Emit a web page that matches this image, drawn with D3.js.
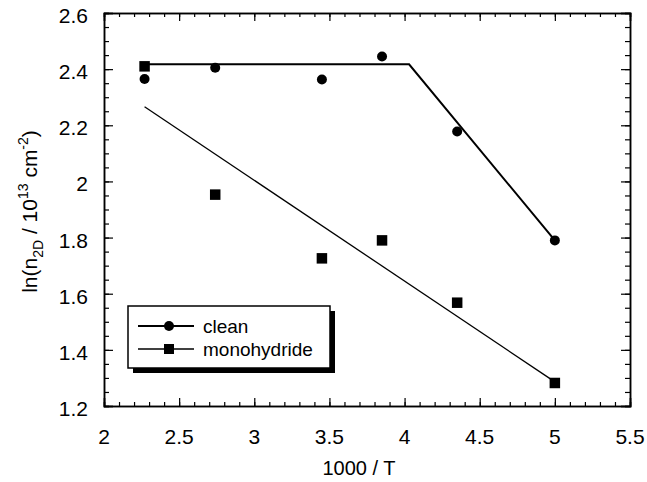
<!DOCTYPE html>
<html>
<head>
<meta charset="utf-8">
<script src="https://cdn.jsdelivr.net/npm/d3@7"></script>
<style>
  body { margin: 0; background: #fff; }
  text { font-family: "Liberation Sans", Arial, sans-serif; fill: #000; }
</style>
</head>
<body>
<div id="chart"></div>
<script>
// Data
var invT = [2.27, 2.74, 3.45, 3.85, 4.35, 5.0];
var cleanY = [2.365, 2.405, 2.363, 2.445, 2.178, 1.79];
var monoY = [2.41, 1.953, 1.726, 1.79, 1.568, 1.282];

// fitted lines
var cleanFitX = [2.27, 4.03, 5.0];
var cleanFitY = [2.417, 2.417, 1.79];
var monoFitX = [2.27, 5.0];
var monoFitY = [2.266, 1.286];

var xTicks = [2, 2.5, 3, 3.5, 4, 4.5, 5, 5.5];
var yTicks = [1.2, 1.4, 1.6, 1.8, 2, 2.2, 2.4, 2.6];
var legendLabels = ["clean", "monohydride"];

var svgWidth = 647;
var svgHeight = 482;
var margin = { top: 13, right: 17, bottom: 76, left: 104 };
var chartWidth = svgWidth - margin.left - margin.right;
var chartHeight = svgHeight - margin.top - margin.bottom;

var svg = d3.select("#chart")
    .append("svg")
    .attr("width", svgWidth)
    .attr("height", svgHeight);

var chartGroup = svg.append("g")
    .attr("transform", `translate(${margin.left}, ${margin.top})`);

var x = d3.scaleLinear().domain([2, 5.5]).range([0, chartWidth]);
var y = d3.scaleLinear().domain([1.2, 2.6]).range([chartHeight, 0]);

var fmt = d3.format("");

// minor ticks
var xMinor = d3.range(2, 5.5001, 0.1);
var yMinor = d3.range(1.2, 2.6001, 0.05);

function tickAxis(axis, vals, size) {
    return axis.tickValues(vals).tickSize(size).tickFormat("");
}

// bottom
chartGroup.append("g").attr("class", "ax")
    .attr("transform", `translate(0, ${chartHeight})`)
    .call(tickAxis(d3.axisTop(x), xMinor, 4));
chartGroup.append("g").attr("class", "ax")
    .attr("transform", `translate(0, ${chartHeight})`)
    .call(tickAxis(d3.axisTop(x), xTicks, 8));
// top
chartGroup.append("g").attr("class", "ax")
    .call(tickAxis(d3.axisBottom(x), xMinor, 4));
chartGroup.append("g").attr("class", "ax")
    .call(tickAxis(d3.axisBottom(x), xTicks, 8));
// left
chartGroup.append("g").attr("class", "ax")
    .call(tickAxis(d3.axisRight(y), yMinor, 5));
chartGroup.append("g").attr("class", "ax")
    .call(tickAxis(d3.axisRight(y), yTicks, 9));
// right
chartGroup.append("g").attr("class", "ax")
    .attr("transform", `translate(${chartWidth}, 0)`)
    .call(tickAxis(d3.axisLeft(y), yMinor, 5));
chartGroup.append("g").attr("class", "ax")
    .attr("transform", `translate(${chartWidth}, 0)`)
    .call(tickAxis(d3.axisLeft(y), yTicks, 9));

chartGroup.selectAll(".ax path").attr("stroke", "#000").attr("stroke-width", 1.5);
chartGroup.selectAll(".ax line").attr("stroke", "#000").attr("stroke-width", 1.2);

// tick labels
chartGroup.append("g")
    .selectAll("text")
    .data(xTicks)
    .join("text")
    .attr("x", d => x(d))
    .attr("y", chartHeight + 38)
    .attr("text-anchor", "middle")
    .style("font-size", "21px")
    .text(d => fmt(d));

chartGroup.append("g")
    .selectAll("text")
    .data(yTicks)
    .join("text")
    .attr("x", -16)
    .attr("y", d => y(d) + 10)
    .attr("text-anchor", "end")
    .style("font-size", "21px")
    .text(d => fmt(d));

// axis titles
svg.append("text")
    .attr("x", margin.left + chartWidth / 2 - 8)
    .attr("y", 475)
    .attr("text-anchor", "middle")
    .style("font-size", "20px")
    .text("1000 / T");

var yTitle = svg.append("text")
    .attr("transform", `translate(37, ${margin.top + chartHeight / 2 + 2}) rotate(-90)`)
    .attr("text-anchor", "middle")
    .style("font-size", "21px");
yTitle.append("tspan").text("ln(n");
yTitle.append("tspan").attr("dy", 6).style("font-size", "14px").text("2D");
yTitle.append("tspan").attr("dy", -6).text(" / 10");
yTitle.append("tspan").attr("dy", -9).style("font-size", "14px").text("13");
yTitle.append("tspan").attr("dy", 9).text(" cm");
yTitle.append("tspan").attr("dy", -9).style("font-size", "14px").text("-2");
yTitle.append("tspan").attr("dy", 9).text(")");

// fit lines
var line = d3.line().x(d => x(d[0])).y(d => y(d[1]));

chartGroup.append("path")
    .datum(d3.zip(cleanFitX, cleanFitY))
    .attr("d", line)
    .attr("fill", "none")
    .attr("stroke", "#000")
    .attr("stroke-width", 2);

chartGroup.append("path")
    .datum(d3.zip(monoFitX, monoFitY))
    .attr("d", line)
    .attr("fill", "none")
    .attr("stroke", "#000")
    .attr("stroke-width", 1.3);

// markers
var sq = 10.5;
chartGroup.append("g")
    .selectAll("rect")
    .data(d3.zip(invT, monoY))
    .join("rect")
    .attr("x", d => x(d[0]) - sq / 2)
    .attr("y", d => y(d[1]) - sq / 2)
    .attr("width", sq)
    .attr("height", sq)
    .attr("fill", "#000");

chartGroup.append("g")
    .selectAll("circle")
    .data(d3.zip(invT, cleanY))
    .join("circle")
    .attr("cx", d => x(d[0]))
    .attr("cy", d => y(d[1]))
    .attr("r", 5)
    .attr("fill", "#000");

// legend
var legend = svg.append("g").attr("transform", "translate(128, 306)");
legend.append("rect")
    .attr("x", 5).attr("y", 5)
    .attr("width", 202).attr("height", 62)
    .attr("fill", "#000");
legend.append("rect")
    .attr("width", 202).attr("height", 62)
    .attr("fill", "#fff")
    .attr("stroke", "#000")
    .attr("stroke-width", 1.5);

var rows = legend.selectAll("g.row")
    .data(legendLabels)
    .join("g")
    .attr("class", "row")
    .attr("transform", (d, i) => `translate(0, ${20 + i * 23})`);

rows.append("line")
    .attr("x1", 10).attr("x2", 66)
    .attr("stroke", "#000")
    .attr("stroke-width", (d, i) => i === 0 ? 2 : 1.3);

rows.filter((d, i) => i === 0).append("circle")
    .attr("cx", 41).attr("r", 5).attr("fill", "#000");
rows.filter((d, i) => i === 1).append("rect")
    .attr("x", 41 - 5).attr("y", -5)
    .attr("width", 10).attr("height", 10).attr("fill", "#000");

rows.append("text")
    .attr("x", 75)
    .attr("y", 7)
    .style("font-size", "19px")
    .text(d => d);
</script>
</body>
</html>
